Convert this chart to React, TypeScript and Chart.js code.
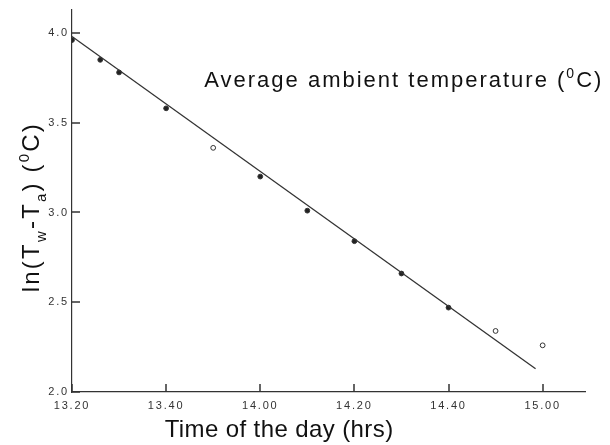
import React, { useEffect, useRef } from "react";
import { Chart, registerables } from "chart.js";
Chart.register(...registerables);

// minutes after 13:20
const timeMinutes = [0, 6, 10, 20, 30, 40, 50, 60, 70, 80, 90, 100];
const lnValues = [3.96, 3.85, 3.78, 3.58, 3.36, 3.2, 3.01, 2.84, 2.66, 2.47, 2.34, 2.26];
const hollowPoint = [false, false, false, false, true, false, false, false, false, false, true, true];
const fitMinutes = [0, 98.5];
const fitValues = [3.98, 2.13];
const xTickValues = [0, 20, 40, 60, 80, 100];
const xTickLabels = ["13.20", "13.40", "14.00", "14.20", "14.40", "15.00"];
const yTickValues = [2.0, 2.5, 3.0, 3.5, 4.0];
const yTickLabels = ["2.0", "2.5", "3.0", "3.5", "4.0"];
const xTitle = "Time of the day (hrs)";
type Part = { t: string; m?: "sub" | "sup" };
const yTitleParts: Part[] = [
  { t: "ln(T" }, { t: "w", m: "sub" }, { t: "-T" }, { t: "a", m: "sub" }, { t: ") (" }, { t: "0", m: "sup" }, { t: "C)" },
];
const annotationParts: Part[] = [
  { t: "Average ambient temperature (" }, { t: "0", m: "sup" }, { t: "C)" },
];

const FONT = "'Liberation Sans', Arial, sans-serif";

function drawRich(ctx: CanvasRenderingContext2D, parts: Part[], x: number, y: number, size: number, spacing: number) {
  (ctx as any).letterSpacing = spacing + "px";
  const fontFor = (p: Part) => `${p.m ? Math.round(size * 0.62) : size}px ${FONT}`;
  let total = 0;
  for (const p of parts) {
    ctx.font = fontFor(p);
    total += ctx.measureText(p.t).width;
  }
  let cx = x - total / 2;
  ctx.textAlign = "left";
  ctx.textBaseline = "alphabetic";
  for (const p of parts) {
    ctx.font = fontFor(p);
    const dy = p.m === "sub" ? size * 0.28 : p.m === "sup" ? -size * 0.42 : 0;
    ctx.fillText(p.t, cx, y + dy);
    cx += ctx.measureText(p.t).width;
  }
  (ctx as any).letterSpacing = "0px";
}

const decorPlugin = {
  id: "decor",
  beforeDraw(chart: any) {
    (chart.ctx as any).letterSpacing = "1.8px";
  },
  afterDraw(chart: any) {
    const ctx: CanvasRenderingContext2D = chart.ctx;
    (ctx as any).letterSpacing = "0px";
    const xs = chart.scales.x;
    const ys = chart.scales.y;
    const area = chart.chartArea;
    ctx.save();
    // inward tick marks
    ctx.fillStyle = "#333";
    for (const v of yTickValues) {
      const py = Math.round(ys.getPixelForValue(v));
      ctx.fillRect(area.left, py - 0.75, 8, 1.5);
    }
    for (const v of xTickValues) {
      const px = Math.round(xs.getPixelForValue(v));
      ctx.fillRect(px - 0.75, area.bottom - 8, 1.5, 8);
    }
    ctx.fillStyle = "#111";
    // annotation
    drawRich(ctx, annotationParts, xs.getPixelForValue(70.5), 87, 22, 2);
    // x title
    drawRich(ctx, [{ t: xTitle }], xs.getPixelForValue(44), 437, 24, 0.4);
    // y title
    ctx.translate(39, ys.getPixelForValue(3.03));
    ctx.rotate(-Math.PI / 2);
    drawRich(ctx, yTitleParts, 0, 0, 24, 2.2);
    ctx.restore();
  },
};

export default function App() {
  const ref = useRef<HTMLCanvasElement>(null);
  useEffect(() => {
    if (!ref.current) return;
    const chart = new Chart(ref.current, {
      type: "scatter",
      data: {
        datasets: [
          {
            label: "fit",
            data: fitMinutes.map((x, i) => ({ x, y: fitValues[i] })),
            showLine: true,
            borderColor: "#333",
            borderWidth: 1.3,
            pointRadius: 0,
          },
          {
            label: "measured",
            data: timeMinutes.map((x, i) => ({ x, y: lnValues[i] })),
            showLine: false,
            pointRadius: 2.4,
            pointBorderWidth: 1,
            pointBorderColor: "#333",
            pointBackgroundColor: hollowPoint.map((h) => (h ? "#fff" : "#222")),
          },
        ],
      },
      options: {
        responsive: false,
        animation: false,
        layout: { padding: { left: 8, top: 8, right: 25, bottom: 0 } },
        plugins: { legend: { display: false }, tooltip: { enabled: false }, title: { display: false } },
        scales: {
          x: {
            type: "linear",
            min: 0,
            max: 109,
            afterBuildTicks: (s: any) => {
              s.ticks = xTickValues.map((v) => ({ value: v }));
            },
            afterFit: (s: any) => {
              s.height = 53;
            },
            ticks: {
              callback: (v: any) => xTickLabels[xTickValues.indexOf(Number(v))] ?? "",
              color: "#333",
              font: { size: 11, family: FONT },
              padding: 7,
              maxRotation: 0,
              autoSkip: false,
            },
            grid: { display: false, drawTicks: false },
            border: { display: true, color: "#333", width: 1.2 },
          },
          y: {
            type: "linear",
            min: 2.0,
            max: 4.13,
            afterBuildTicks: (s: any) => {
              s.ticks = yTickValues.map((v) => ({ value: v }));
            },
            afterFit: (s: any) => {
              s.width = 64;
            },
            ticks: {
              callback: (v: any) => yTickLabels[yTickValues.indexOf(Number(v))] ?? "",
              color: "#333",
              font: { size: 11, family: FONT },
              padding: 3,
              autoSkip: false,
            },
            grid: { display: false, drawTicks: false },
            border: { display: true, color: "#333", width: 1.2 },
          },
        },
      },
      plugins: [decorPlugin],
    } as any);
    return () => chart.destroy();
  }, []);
  return (
    <div style={{ position: "fixed", left: 0, top: 0, width: 610, height: 445, background: "#fff" }}>
      <canvas ref={ref} width={610} height={445} />
    </div>
  );
}
